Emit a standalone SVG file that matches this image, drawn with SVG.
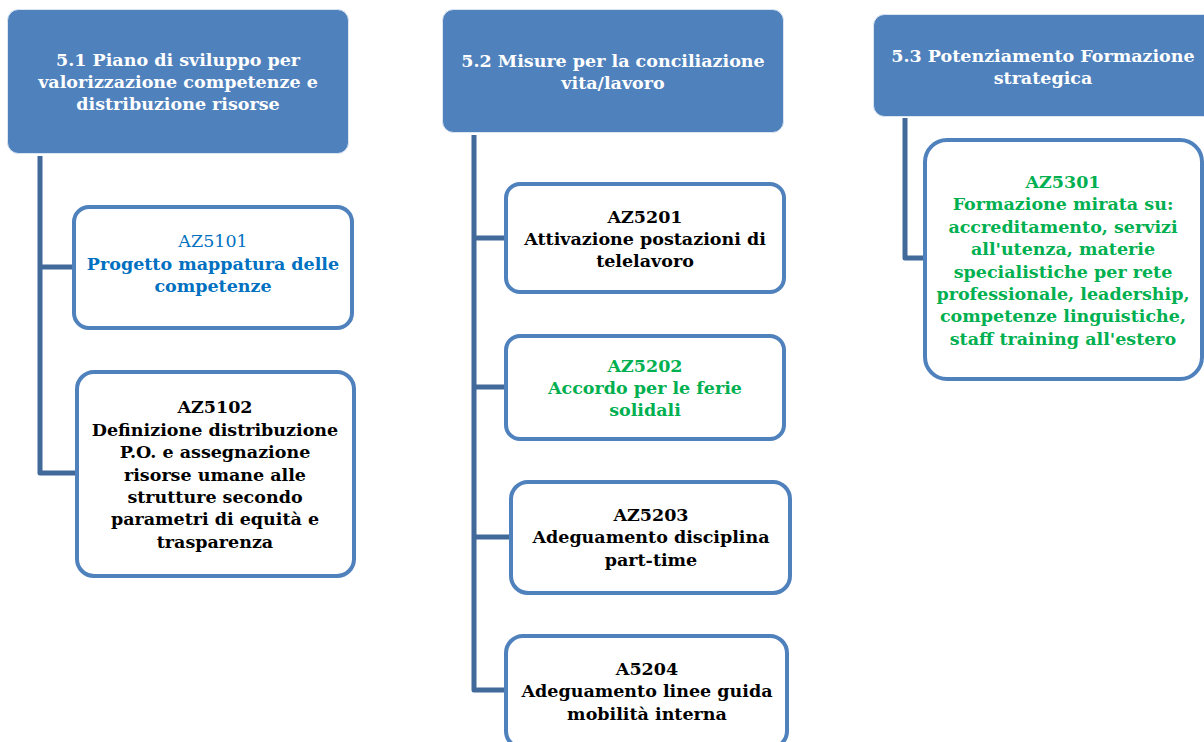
<svg xmlns="http://www.w3.org/2000/svg" width="1204" height="742" viewBox="0 0 1204 742">
<style>
.hdr{fill:#4F81BD;stroke:#dce6f2;stroke-width:1}
.box{fill:#fff;stroke:#4F81BD;stroke-width:4}
.conn{fill:none;stroke:#41699A;stroke-width:5;stroke-linejoin:round}
text{font-family:"DejaVu Serif","Liberation Serif",serif;font-weight:bold;font-size:17.5px;text-anchor:middle}
.w{fill:#fff}
.k{fill:#000}
.g{fill:#00B050}
.b{fill:#0070C0}
.n{font-weight:normal}
</style>
<rect width="1204" height="742" fill="#fff"/>
<g id="connectors">
<path class="conn" d="M40,156 V473 H75 M40,267 H73"/>
<path class="conn" d="M474,135 V690 H505 M474,238 H505 M474,387 H505 M474,537 H510"/>
<path class="conn" d="M905,118 V258 H924"/>
</g>
<g id="h51">
<rect class="hdr" x="7.5" y="9.5" width="341" height="144" rx="11"/>
<text class="w" x="178" y="66">5.1 Piano di sviluppo per</text>
<text class="w" x="178" y="88">valorizzazione competenze e</text>
<text class="w" x="178" y="110">distribuzione risorse</text>
</g>
<g id="az5101">
<rect class="box" x="74" y="207" width="278" height="121" rx="15"/>
<text class="b n" x="213" y="247">AZ5101</text>
<text class="b" x="213" y="270">Progetto mappatura delle</text>
<text class="b" x="213" y="292">competenze</text>
</g>
<g id="az5102">
<rect class="box" x="77" y="372" width="277" height="204" rx="17"/>
<text class="k" x="215" y="413">AZ5102</text>
<text class="k" x="215" y="436">Definizione distribuzione</text>
<text class="k" x="215" y="458">P.O. e assegnazione</text>
<text class="k" x="215" y="481">risorse umane alle</text>
<text class="k" x="215" y="503">strutture secondo</text>
<text class="k" x="215" y="525">parametri di equità e</text>
<text class="k" x="215" y="548">trasparenza</text>
</g>
<g id="h52">
<rect class="hdr" x="442.5" y="9.5" width="341" height="123" rx="11"/>
<text class="w" x="613" y="67">5.2 Misure per la conciliazione</text>
<text class="w" x="613" y="89">vita/lavoro</text>
</g>
<g id="az5201">
<rect class="box" x="506" y="184" width="278" height="108" rx="14"/>
<text class="k" x="645" y="223">AZ5201</text>
<text class="k" x="645" y="245">Attivazione postazioni di</text>
<text class="k" x="645" y="267">telelavoro</text>
</g>
<g id="az5202">
<rect class="box" x="506" y="336" width="278" height="103" rx="14"/>
<text class="g" x="645" y="372">AZ5202</text>
<text class="g" x="645" y="394">Accordo per le ferie</text>
<text class="g" x="645" y="416">solidali</text>
</g>
<g id="az5203">
<rect class="box" x="511" y="482" width="279" height="111" rx="17"/>
<text class="k" x="651" y="521">AZ5203</text>
<text class="k" x="651" y="543">Adeguamento disciplina</text>
<text class="k" x="651" y="566">part-time</text>
</g>
<g id="a5204">
<rect class="box" x="506" y="636" width="281" height="112" rx="17"/>
<text class="k" x="647" y="675">A5204</text>
<text class="k" x="647" y="697">Adeguamento linee guida</text>
<text class="k" x="647" y="720">mobilità interna</text>
</g>
<g id="h53">
<rect class="hdr" x="873.5" y="14.5" width="341" height="102" rx="11"/>
<text class="w" x="1043" y="62">5.3 Potenziamento Formazione</text>
<text class="w" x="1043" y="84">strategica</text>
</g>
<g id="az5301">
<rect class="box" x="925" y="140" width="277" height="239" rx="22"/>
<text class="g" x="1063" y="188">AZ5301</text>
<text class="g" x="1063" y="210">Formazione mirata su:</text>
<text class="g" x="1063" y="233">accreditamento, servizi</text>
<text class="g" x="1063" y="255">all'utenza, materie</text>
<text class="g" x="1063" y="278">specialistiche per rete</text>
<text class="g" x="1063" y="300">professionale, leadership,</text>
<text class="g" x="1063" y="322">competenze linguistiche,</text>
<text class="g" x="1063" y="345">staff training all'estero</text>
</g>
</svg>
